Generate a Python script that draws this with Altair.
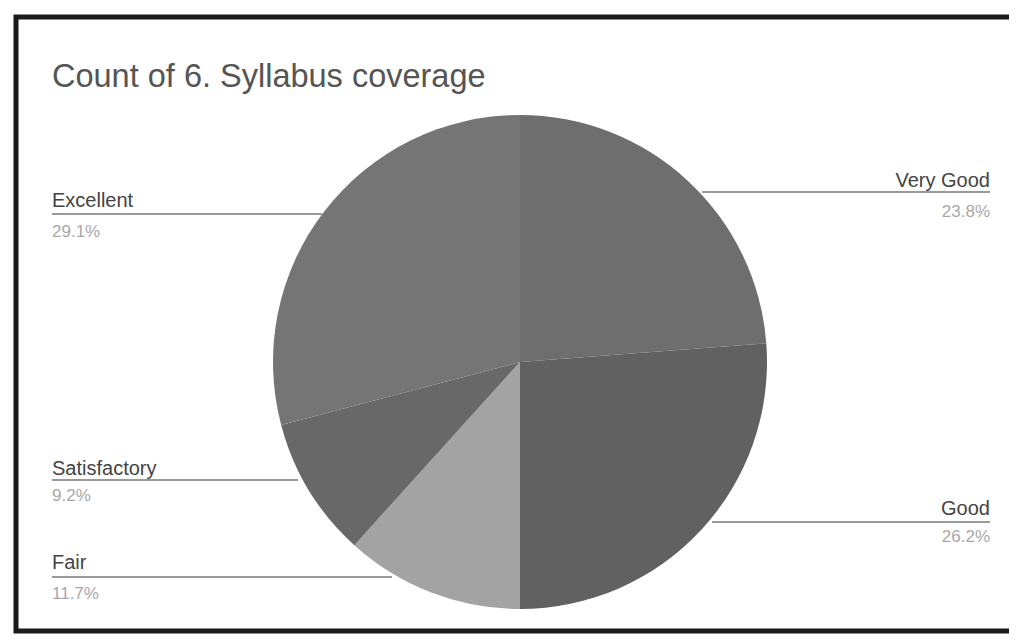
import altair as alt
import pandas as pd

# ---- data ----
categories = ["Very Good", "Good", "Fair", "Satisfactory", "Excellent"]
percents = [23.8, 26.2, 11.7, 9.2, 29.1]
slice_colors = ["#6e6e6e", "#616161", "#a3a3a3", "#686868", "#757575"]
title_text = "Count of 6. Syllabus coverage"

pie_df = pd.DataFrame({
    "category": categories,
    "value": percents,
    "order": list(range(len(categories))),
})

# ---- label layout (view pixels) ----
label_x = [982, 982, 44, 44, 44]
label_align = ["right", "right", "left", "left", "left"]
name_y = [179, 507, 561, 467, 199]
pct_y = [209, 534, 591, 493, 229]
line_y = [184, 514, 569, 472, 206]
line_x1 = [694, 704, 44, 44, 44]
line_x2 = [982, 982, 384, 290, 314]

lab_df = pd.DataFrame({
    "category": categories,
    "pct": [f"{p:.1f}%" for p in percents],
    "lx": label_x,
    "align": label_align,
    "ny": name_y,
    "py": pct_y,
    "ly": line_y,
    "lx1": line_x1,
    "lx2": line_x2,
})

W, H = 1001, 627
CX, CY, R = 512, 354, 247

pie = alt.Chart(pie_df).mark_arc(radius=R).encode(
    theta=alt.Theta("value:Q", stack=True),
    order=alt.Order("order:Q"),
    color=alt.Color("category:N", scale=alt.Scale(domain=categories, range=slice_colors), legend=None),
    x=alt.value(CX),
    y=alt.value(CY),
)

lines = alt.Chart(lab_df).mark_rule(color="#9a9a9a", strokeWidth=2).encode(
    x=alt.X("lx1:Q", scale=None),
    x2="lx2:Q",
    y=alt.Y("ly:Q", scale=None),
)

base_txt = alt.Chart(lab_df)
names_l = base_txt.transform_filter("datum.align == 'left'").mark_text(
    align="left", baseline="alphabetic", font="Liberation Sans", fontSize=20, color="#444444"
).encode(x=alt.X("lx:Q", scale=None), y=alt.Y("ny:Q", scale=None), text="category:N")
names_r = base_txt.transform_filter("datum.align == 'right'").mark_text(
    align="right", baseline="alphabetic", font="Liberation Sans", fontSize=20, color="#444444"
).encode(x=alt.X("lx:Q", scale=None), y=alt.Y("ny:Q", scale=None), text="category:N")
pct_l = base_txt.transform_filter("datum.align == 'left'").mark_text(
    align="left", baseline="alphabetic", font="Liberation Sans", fontSize=17, color="#a8a8a8"
).encode(x=alt.X("lx:Q", scale=None), y=alt.Y("py:Q", scale=None), text="pct:N")
pct_r = base_txt.transform_filter("datum.align == 'right'").mark_text(
    align="right", baseline="alphabetic", font="Liberation Sans", fontSize=17, color="#a8a8a8"
).encode(x=alt.X("lx:Q", scale=None), y=alt.Y("py:Q", scale=None), text="pct:N")

title = alt.Chart(pd.DataFrame({"t": [title_text]})).mark_text(
    align="left", baseline="alphabetic", font="Liberation Sans", fontSize=32.5, color="#555555"
).encode(x=alt.value(44), y=alt.value(79), text="t:N")

frame = alt.Chart(pd.DataFrame({"a": [0]})).mark_rect(
    fill=None, stroke="#1a1a1a", strokeWidth=5
).encode(x=alt.value(8), x2=alt.value(1010), y=alt.value(9), y2=alt.value(623))

chart = alt.layer(frame, pie, lines, names_l, names_r, pct_l, pct_r, title).properties(
    width=W, height=H, autosize=alt.AutoSizeParams(type="none"), padding=0, background="white"
).configure_view(stroke=None)

chart.save("out.html", embed_options={"renderer": "svg", "actions": False})
